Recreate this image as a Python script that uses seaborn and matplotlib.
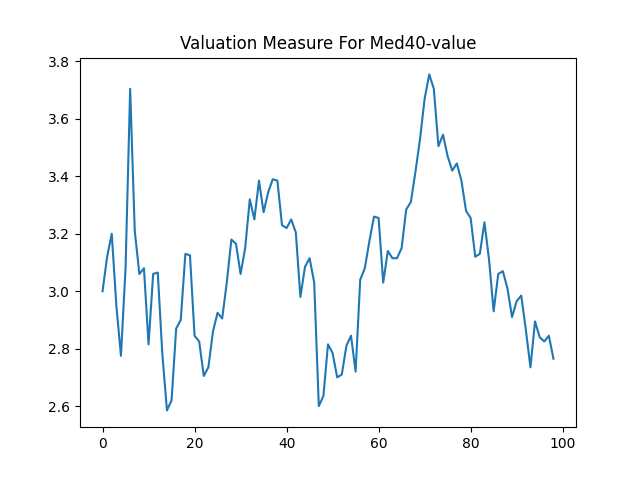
import numpy as np
import pandas as pd
import seaborn as sns
import matplotlib
matplotlib.use("Agg")
import matplotlib.pyplot as plt

values = [
    3.00, 3.12, 3.20, 2.95, 2.775, 3.08, 3.705, 3.21, 3.06, 3.08,
    2.815, 3.06, 3.065, 2.78, 2.585, 2.62, 2.87, 2.90, 3.13, 3.125,
    2.845, 2.825, 2.705, 2.735, 2.86, 2.925, 2.905, 3.03, 3.18, 3.165,
    3.06, 3.15, 3.32, 3.25, 3.385, 3.275, 3.345, 3.39, 3.385, 3.23,
    3.22, 3.25, 3.205, 2.98, 3.085, 3.115, 3.03, 2.60, 2.635, 2.815,
    2.785, 2.70, 2.71, 2.81, 2.845, 2.72, 3.04, 3.08, 3.175, 3.26,
    3.255, 3.03, 3.14, 3.115, 3.115, 3.15, 3.285, 3.31, 3.415, 3.53,
    3.67, 3.755, 3.705, 3.505, 3.545, 3.47, 3.42, 3.445, 3.385, 3.28,
    3.255, 3.12, 3.13, 3.24, 3.11, 2.93, 3.06, 3.07, 3.01, 2.91,
    2.965, 2.985, 2.865, 2.735, 2.895, 2.84, 2.825, 2.845, 2.765,
]
index = np.arange(len(values))

df = pd.DataFrame({"idx": index, "value": values})

fig, ax = plt.subplots(figsize=(6.4, 4.8), dpi=100)
sns.lineplot(data=df, x="idx", y="value", ax=ax, color="#1f77b4")
ax.set_title("Valuation Measure For Med40-value")
ax.set_xlabel("")
ax.set_ylabel("")

fig.savefig("out.png")
